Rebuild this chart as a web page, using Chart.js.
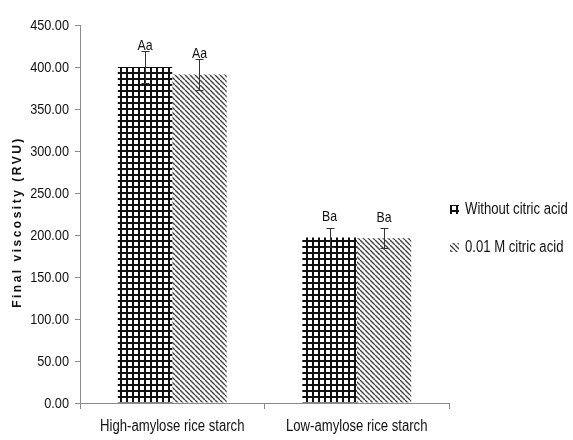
<!DOCTYPE html>
<html>
<head>
<meta charset="utf-8">
<script src="https://cdn.jsdelivr.net/npm/chart.js@4/dist/chart.umd.min.js"></script>
<style>
  html, body { margin: 0; padding: 0; background: #fff; }
  #wrap { width: 573px; height: 440px; }
</style>
</head>
<body>
<div id="wrap"><canvas id="c" width="573" height="440"></canvas></div>
<script>
// Final viscosity of rice starches with and without citric acid
const categories = ['High-amylose rice starch', 'Low-amylose rice starch'];
const seriesNames = ['Without citric acid', '0.01 M citric acid'];
const withoutAcid = [400, 197];
const withAcid = [391, 196];
const withoutAcidErr = [19, 11];
const withAcidErr = [18, 12];
const withoutAcidLetters = ['Aa', 'Ba'];
const withAcidLetters = ['Aa', 'Ba'];
const yTicks = [0, 50, 100, 150, 200, 250, 300, 350, 400, 450];

const FONT = "'Liberation Sans', Arial, sans-serif";
const NARROW = 0.82;   // horizontal squeeze to get a narrow face

// draw text squeezed horizontally
function narrowText(ctx, text, x, y, size, align, baseline) {
  ctx.save();
  ctx.font = size + 'px ' + FONT;
  ctx.textAlign = align;
  ctx.textBaseline = baseline;
  ctx.translate(x, y);
  ctx.scale(NARROW, 1);
  ctx.fillText(text, 0, 0);
  ctx.restore();
}

function crossPattern() {
  const t = document.createElement('canvas');
  t.width = 6; t.height = 6;
  const g = t.getContext('2d');
  g.fillStyle = '#ffffff';
  g.fillRect(0, 0, 6, 6);
  g.fillStyle = '#111111';
  g.fillRect(0, 0, 2, 6);
  g.fillRect(0, 0, 6, 2);
  return g.createPattern(t, 'repeat');
}

function diagPattern() {
  const s = 5;
  const t = document.createElement('canvas');
  t.width = s; t.height = s;
  const g = t.getContext('2d');
  g.fillStyle = '#ffffff';
  g.fillRect(0, 0, s, s);
  g.strokeStyle = '#444444';
  g.lineWidth = 1.4;
  for (const x0 of [-s, 0, s]) {
    g.beginPath();
    g.moveTo(x0, 0);
    g.lineTo(x0 + s, s);
    g.stroke();
  }
  return g.createPattern(t, 'repeat');
}

const fills = [crossPattern(), diagPattern()];
const errs = [withoutAcidErr, withAcidErr];
const letters = [withoutAcidLetters, withAcidLetters];

// tick labels, error bars, significance letters, y-axis title and legend
const annotate = {
  id: 'annotate',
  afterDatasetsDraw(chart) {
    const ctx = chart.ctx;
    const y = chart.scales.y;
    ctx.save();
    chart.data.datasets.forEach((ds, di) => {
      const meta = chart.getDatasetMeta(di);
      meta.data.forEach((bar, i) => {
        const v = ds.data[i];
        const e = errs[di][i];
        const yTop = Math.round(y.getPixelForValue(v + e)) + 0.5;
        const yBot = Math.round(y.getPixelForValue(v - e)) + 0.5;
        const x = Math.round(bar.x) + 0.5;
        ctx.strokeStyle = '#333';
        ctx.lineWidth = 1;
        ctx.beginPath();
        ctx.moveTo(x, yTop); ctx.lineTo(x, yBot);
        ctx.moveTo(x - 4, yTop); ctx.lineTo(x + 4, yTop);
        ctx.moveTo(x - 4, yBot); ctx.lineTo(x + 4, yBot);
        ctx.stroke();
        ctx.fillStyle = '#111';
        narrowText(ctx, letters[di][i], bar.x, bar.y - 21, 15, 'center', 'middle');
      });
    });
    ctx.restore();
  },
  afterDraw(chart) {
    const ctx = chart.ctx;
    const area = chart.chartArea;
    const xs = chart.scales.x, ys = chart.scales.y;

    ctx.save();
    ctx.fillStyle = '#111';
    ys.ticks.forEach((t, i) => {
      narrowText(ctx, Number(t.value).toFixed(2), ys.right - 11, ys.getPixelForTick(i) + 1, 15.5, 'right', 'middle');
    });
    xs.ticks.forEach((t, i) => {
      narrowText(ctx, chart.data.labels[i], xs.getPixelForTick(i), xs.top + 24, 16, 'center', 'middle');
    });
    ctx.restore();

    // y-axis title
    ctx.save();
    ctx.translate(18, (area.top + area.bottom) / 2 + 8);
    ctx.rotate(-Math.PI / 2);
    ctx.font = 'bold 12px ' + FONT;
    if ('letterSpacing' in ctx) ctx.letterSpacing = '2.5px';
    ctx.fillStyle = '#111';
    ctx.textAlign = 'center';
    ctx.textBaseline = 'middle';
    ctx.fillText('Final viscosity (RVU)', 0, 0);
    ctx.restore();

    // legend
    ctx.save();
    const lx = area.right + 1;
    const rows = [209, 247];
    chart.data.datasets.forEach((ds, di) => {
      const cy = rows[di];
      ctx.fillStyle = ds.backgroundColor;
      ctx.fillRect(lx, cy - 4, 9, 9);
      ctx.fillStyle = '#111';
      narrowText(ctx, ds.label, lx + 15, cy + 1, 16, 'left', 'middle');
    });
    ctx.restore();
  }
};

new Chart(document.getElementById('c'), {
  type: 'bar',
  data: {
    labels: categories,
    datasets: [
      { label: seriesNames[0], data: withoutAcid, backgroundColor: fills[0], borderWidth: 0 },
      { label: seriesNames[1], data: withAcid, backgroundColor: fills[1], borderWidth: 0 }
    ]
  },
  options: {
    responsive: false,
    animation: false,
    devicePixelRatio: 1,
    layout: { padding: { top: 25, right: 124, left: 0, bottom: 0 } },
    datasets: { bar: { categoryPercentage: 0.59, barPercentage: 1.0 } },
    plugins: { legend: { display: false }, tooltip: { enabled: false } },
    scales: {
      x: {
        grid: { display: true, drawOnChartArea: false, drawTicks: true, tickLength: 6, color: '#8a8a8a', offset: true },
        border: { display: true, color: '#8a8a8a', width: 1 },
        ticks: { color: 'rgba(0,0,0,0)', font: { family: FONT, size: 16 }, padding: 6, maxRotation: 0 },
        afterFit(s) { s.height = 37; }
      },
      y: {
        min: 0, max: 450,
        afterBuildTicks(s) { s.ticks = yTicks.map(v => ({ value: v })); },
        grid: { display: true, drawOnChartArea: false, drawTicks: true, tickLength: 5, color: '#8a8a8a' },
        border: { display: true, color: '#8a8a8a', width: 1 },
        ticks: { color: 'rgba(0,0,0,0)', font: { family: FONT, size: 15 }, padding: 4, callback: v => Number(v).toFixed(2) },
        afterFit(s) { s.width = 80; }
      }
    }
  },
  plugins: [annotate]
});
</script>
</body>
</html>
